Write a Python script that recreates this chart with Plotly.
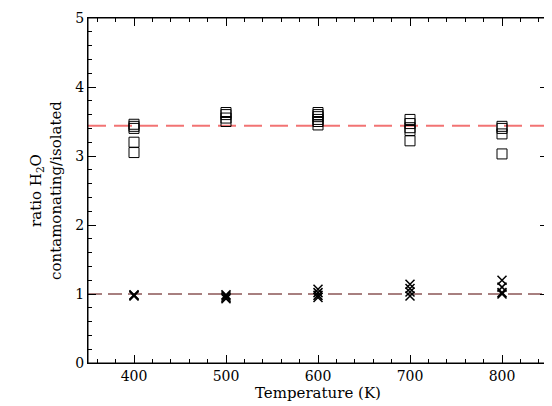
import plotly.graph_objects as go

temps = [400, 500, 600, 700, 800]
sq_400 = [3.46, 3.43, 3.40, 3.20, 3.05]
sq_500 = [3.63, 3.60, 3.55, 3.50]
sq_600 = [3.63, 3.60, 3.57, 3.53, 3.50, 3.45]
sq_700 = [3.53, 3.47, 3.41, 3.37, 3.22]
sq_800 = [3.43, 3.40, 3.32, 3.03]
x_400 = [0.98, 0.99, 0.97]
x_500 = [0.93, 0.95, 0.97, 0.99]
x_600 = [1.07, 1.02, 0.98, 0.95]
x_700 = [1.14, 1.08, 1.03, 0.97]
x_800 = [1.20, 1.10, 1.02, 1.00]
mean_ratio = 3.44
unit_ratio = 1.0

squares = [sq_400, sq_500, sq_600, sq_700, sq_800]
crosses = [x_400, x_500, x_600, x_700, x_800]

def flat(groups):
    xs, ys = [], []
    for t, g in zip(temps, groups):
        xs += [t] * len(g)
        ys += g
    return xs, ys

fig = go.Figure()
sx, sy = flat(squares)
cx, cy = flat(crosses)
fig.add_trace(go.Scatter(x=[350, 850], y=[mean_ratio] * 2, mode='lines',
                         line=dict(color='rgba(240,90,90,0.85)', width=2, dash='18px,8px')))
fig.add_trace(go.Scatter(x=[350, 850], y=[unit_ratio] * 2, mode='lines',
                         line=dict(color='#500000', width=1, dash='14px,6px')))
fig.add_trace(go.Scatter(x=sx, y=sy, mode='markers',
                         marker=dict(symbol='square-open', size=10, color='black', line=dict(width=1))))
fig.add_trace(go.Scatter(x=cx, y=cy, mode='markers',
                         marker=dict(symbol='x-thin-open', size=9, color='black', line=dict(width=1.5, color='black'))))

ax = dict(showgrid=False, zeroline=False, ticks='inside', mirror='allticks', showline=True,
          linecolor='black', linewidth=1, ticklen=8, tickcolor='black', automargin=False,
          ticklabeloverflow='allow',
          minor=dict(ticks='inside', ticklen=4, tickcolor='black'))
# the page body has an 8px margin, so the figure is a bit smaller than the window
fig.update_layout(
    width=544, height=398, showlegend=False, plot_bgcolor='white', paper_bgcolor='white',
    margin=dict(l=80, r=4, t=10, b=43),
    font=dict(family='DejaVu Serif', size=14, color='black'),
    xaxis=dict(ax, range=[350, 850], dtick=100, minor=dict(ax['minor'], dtick=20),
               title=dict(text='Temperature (K)', standoff=2, font=dict(size=15))),
    yaxis=dict(ax, range=[0, 5], dtick=1, minor=dict(ax['minor'], dtick=0.2),
               title=dict(text='ratio H<sub>2</sub>O<br>contamonating/isolated', standoff=10,
                          font=dict(size=15))),
)
fig.add_shape(type='rect', xref='paper', yref='paper', x0=0, x1=1, y0=0, y1=1,
              line=dict(color='black', width=1))
fig.write_html("out.html")
